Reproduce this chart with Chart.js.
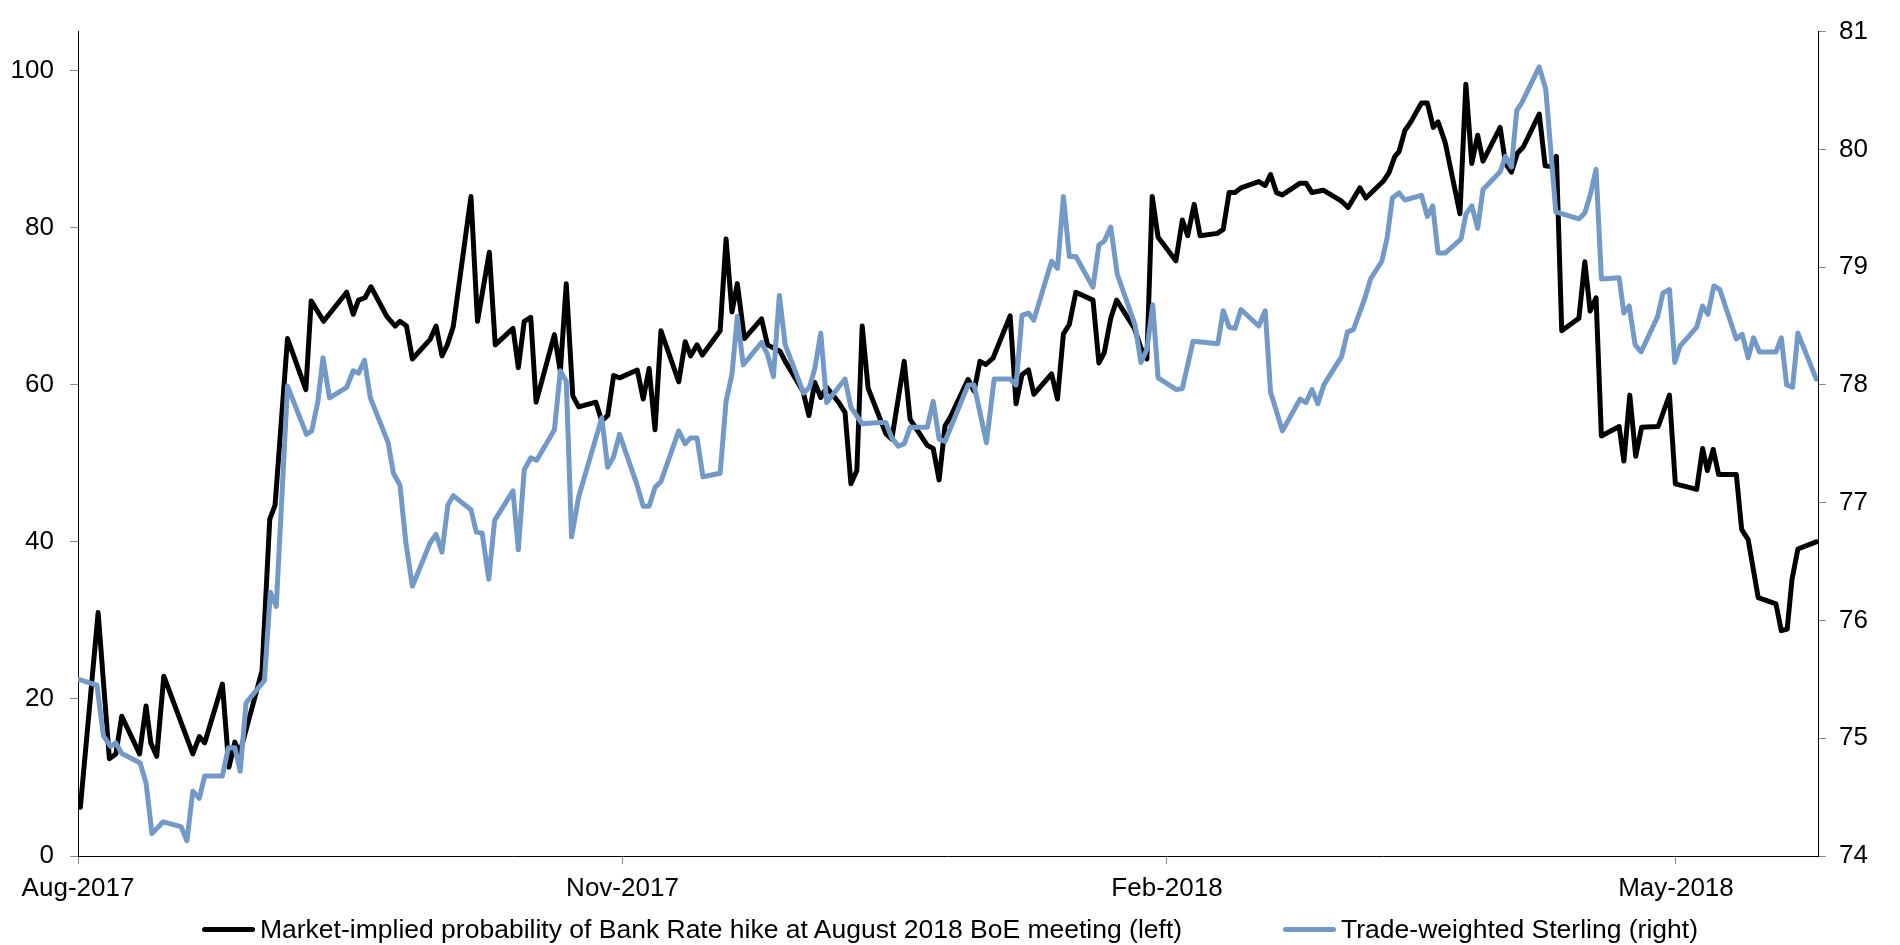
<!DOCTYPE html>
<html>
<head>
<meta charset="utf-8">
<script src="https://cdn.jsdelivr.net/npm/chart.js@4"></script>
<style>
  body { margin: 0; background: #fff; overflow: hidden; }
  #wrap { position: relative; width: 1900px; height: 945px; }
  #legend {
    position: absolute; left: 0; top: 914px; width: 1900px;
    display: flex; justify-content: center; align-items: center; gap: 101px;
    font-family: 'Liberation Sans', Arial, sans-serif; font-size: 26.5px; color: #000;
  }
  .item { display: flex; align-items: center; white-space: nowrap; }
  .swatch { display: inline-block; width: 53px; height: 5px; border-radius: 3px; margin-right: 5px; }
</style>
</head>
<body>
<div id="wrap">
  <canvas id="chart" width="1900" height="945"></canvas>
  <div id="legend">
    <div class="item"><span class="swatch" style="background:#000"></span>Market-implied probability of Bank Rate hike at August 2018 BoE meeting (left)</div>
    <div class="item"><span class="swatch" style="background:#7399c6"></span>Trade-weighted Sterling (right)</div>
  </div>
</div>
<script>
// x values are days counted from 1 Aug 2017
const tickDays = [0, 92, 184, 270]
const tickLabels = ["Aug-2017", "Nov-2017", "Feb-2018", "May-2018"]

// market-implied probability of a hike (left axis, %)
const probDays = [0.4, 3.4, 5.3, 6.4, 7.4, 10.4, 11.5, 12.3, 13.3, 14.5, 19.4, 20.5, 21.4, 24.4, 25.5, 26.5, 27.3, 31.1, 32.4, 33.3,
  35.4, 38.5, 39.4, 41.5, 45.4, 46.5, 47.4, 48.5, 49.5, 52.2, 53.6, 54.4, 55.5, 56.5, 59.5, 60.5, 61.5, 62.4, 63.4, 66.4,
  67.5, 69.5, 70.5, 73.5, 74.4, 75.4, 76.5, 77.4, 80.5, 81.5, 82.5, 83.6, 84.6, 87.5, 88.5, 89.5, 90.5, 91.5, 94.5, 95.5,
  96.5, 97.5, 98.5, 101.5, 102.6, 103.5, 104.6, 105.5, 108.5, 109.5, 110.5, 111.4, 112.6, 115.5, 116.5, 118.6, 119.5, 122.5, 123.5, 124.5,
  125.5, 126.5, 128.5, 129.6, 130.6, 131.6, 132.5, 133.5, 136.5, 137.5, 139.6, 140.6, 143.5, 144.5, 145.5, 146.5, 147.4, 150.4, 151.4, 152.4,
  153.4, 154.6, 157.5, 158.5, 159.5, 160.6, 161.5, 164.5, 165.5, 166.5, 167.5, 168.6, 171.5, 172.5, 173.4, 174.5, 175.5, 178.5, 179.6, 180.6,
  181.5, 182.5, 185.5, 186.6, 187.5, 188.6, 189.6, 192.5, 193.5, 194.5, 195.5, 196.5, 199.5, 200.6, 201.5, 202.5, 203.5, 206.5, 207.5, 208.5,
  210.4, 213.5, 214.6, 216.6, 217.6, 220.5, 221.5, 222.5, 223.2, 224.2, 225.2, 227.0, 228.0, 229.0, 229.8, 231.0, 233.5, 234.5, 235.5, 236.5,
  237.4, 240.3, 241.2, 242.2, 243.2, 244.2, 246.9, 247.9, 248.9, 249.8, 250.7, 253.6, 254.6, 255.5, 256.5, 257.4, 260.4, 261.2, 262.2, 263.2,
  264.2, 267.0, 268.9, 269.9, 273.5, 274.5, 275.3, 276.3, 277.2, 280.2, 281.1, 282.2, 283.9, 286.9, 287.8, 288.8, 289.6, 290.6, 293.7]
const probValues = [6.2, 31.0, 12.4, 13.0, 17.8, 13.0, 19.1, 14.4, 12.7, 22.9, 13.0, 15.2, 14.4, 21.9, 11.3, 14.5, 13.0, 23.6, 42.9, 44.7,
  65.9, 59.4, 70.7, 68.1, 71.8, 69.0, 70.8, 71.1, 72.5, 68.7, 67.5, 68.1, 67.5, 63.3, 65.8, 67.5, 63.7, 65.1, 67.4, 84.0,
  68.1, 76.9, 65.1, 67.2, 62.2, 68.1, 68.6, 57.8, 66.4, 61.7, 72.9, 58.6, 57.2, 57.8, 55.4, 56.1, 61.2, 60.9, 61.9, 58.2,
  62.1, 54.3, 66.9, 60.4, 65.5, 63.7, 65.1, 63.8, 66.9, 78.6, 69.3, 72.9, 65.9, 68.4, 65.1, 64.3, 63.0, 59.2, 56.1, 60.3,
  58.4, 59.7, 57.8, 56.5, 47.4, 49.1, 67.5, 59.6, 53.8, 53.1, 63.0, 55.6, 52.3, 51.9, 47.9, 54.8, 55.9, 60.7, 59.2, 63.0,
  62.6, 63.4, 68.8, 57.6, 61.3, 61.9, 58.8, 61.4, 58.2, 66.5, 67.7, 71.8, 70.8, 62.8, 64.1, 68.5, 70.8, 67.2, 64.7, 63.3,
  84.0, 78.8, 75.8, 81.0, 79.0, 83.0, 79.0, 79.3, 79.8, 84.5, 84.5, 85.1, 85.9, 85.4, 86.8, 84.5, 84.2, 85.7, 85.7, 84.5,
  84.8, 83.4, 82.6, 85.1, 83.8, 85.9, 87.0, 89.1, 89.7, 92.4, 93.5, 95.9, 95.9, 92.8, 93.5, 90.9, 81.8, 98.3, 88.2, 91.8,
  88.5, 92.8, 88.2, 87.1, 89.5, 90.3, 94.5, 87.9, 87.8, 89.1, 66.9, 68.5, 75.7, 69.4, 71.1, 53.5, 54.7, 50.3, 58.7, 50.9,
  54.6, 54.7, 58.7, 47.4, 46.7, 51.9, 49.1, 51.8, 48.6, 48.6, 41.6, 40.3, 32.9, 32.1, 28.7, 28.9, 35.2, 39.1, 40.0]

// trade-weighted sterling index (right axis)
const twiDays = [0.1, 3.2, 4.3, 5.5, 6.4, 7.4, 10.5, 11.5, 12.5, 14.4, 17.4, 18.4, 19.4, 20.5, 21.4, 24.4, 25.4, 26.5, 27.4, 28.4,
  31.5, 32.5, 33.5, 35.4, 38.6, 39.5, 40.5, 41.4, 42.5, 45.4, 46.5, 47.4, 48.4, 49.4, 52.4, 53.3, 54.4, 55.4, 56.5, 59.5,
  60.5, 61.5, 62.5, 63.4, 66.4, 67.3, 68.3, 69.4, 70.4, 73.5, 74.4, 75.4, 76.5, 77.5, 80.5, 81.5, 82.5, 83.4, 84.6, 88.5,
  89.5, 90.5, 91.5, 94.4, 95.5, 96.5, 97.5, 98.5, 101.5, 102.6, 103.5, 104.6, 105.6, 108.5, 109.5, 110.5, 111.4, 112.4, 115.5, 116.5,
  117.5, 118.5, 119.5, 122.6, 123.6, 124.5, 125.5, 126.5, 129.6, 130.6, 132.5, 135.5, 136.5, 137.5, 138.6, 139.6, 140.6, 143.5, 144.5, 145.5,
  146.5, 150.4, 151.4, 153.5, 154.8, 157.5, 158.5, 159.5, 160.6, 161.5, 164.5, 165.5, 166.5, 167.5, 168.6, 171.5, 172.5, 173.4, 174.5, 175.6,
  178.6, 179.6, 180.6, 181.6, 182.5, 185.6, 186.6, 188.4, 192.6, 193.5, 194.5, 195.5, 196.5, 199.5, 200.6, 201.5, 203.5, 206.5, 207.5, 208.5,
  209.5, 210.5, 213.5, 214.5, 215.5, 217.4, 218.4, 220.3, 221.2, 222.1, 223.2, 224.2, 227.0, 228.0, 228.9, 229.8, 231.0, 233.7, 234.5, 235.5,
  236.5, 237.4, 240.3, 241.2, 242.2, 243.1, 243.9, 246.9, 248.0, 249.7, 253.6, 254.6, 255.5, 256.5, 257.4, 260.4, 261.2, 262.1, 263.1, 264.1,
  266.9, 267.8, 268.9, 269.8, 270.7, 273.5, 274.5, 275.4, 276.4, 277.4, 280.2, 281.2, 282.2, 283.1, 284.1, 286.9, 287.8, 288.7, 289.7, 290.6,
  293.7]
const twiValues = [75.50, 75.45, 75.02, 74.93, 74.96, 74.87, 74.79, 74.62, 74.19, 74.29, 74.25, 74.13, 74.55, 74.49, 74.68, 74.68, 74.92, 74.92, 74.72, 75.30,
  75.49, 76.24, 76.12, 77.99, 77.58, 77.61, 77.85, 78.23, 77.89, 77.98, 78.12, 78.10, 78.21, 77.89, 77.51, 77.25, 77.15, 76.66, 76.29, 76.66,
  76.73, 76.58, 76.98, 77.06, 76.94, 76.75, 76.74, 76.35, 76.85, 77.10, 76.60, 77.28, 77.38, 77.36, 77.62, 78.12, 78.03, 76.71, 77.05, 77.72,
  77.30, 77.39, 77.58, 77.16, 76.97, 76.97, 77.13, 77.18, 77.61, 77.50, 77.55, 77.55, 77.22, 77.25, 77.86, 78.09, 78.58, 78.17, 78.36, 78.26,
  78.07, 78.76, 78.34, 77.93, 77.98, 78.14, 78.44, 77.85, 78.05, 77.81, 77.67, 77.68, 77.68, 77.55, 77.48, 77.50, 77.64, 77.64, 77.86, 77.54,
  77.52, 78.00, 78.00, 77.51, 78.05, 78.05, 78.00, 78.59, 78.61, 78.55, 79.05, 78.99, 79.60, 79.09, 79.09, 78.83, 79.19, 79.22, 79.34, 78.94,
  78.51, 78.19, 78.30, 78.68, 78.06, 77.96, 77.97, 78.37, 78.35, 78.63, 78.49, 78.48, 78.64, 78.50, 78.63, 77.94, 77.61, 77.88, 77.85, 77.96,
  77.84, 78.00, 78.24, 78.45, 78.47, 78.73, 78.90, 79.05, 79.25, 79.59, 79.63, 79.57, 79.61, 79.43, 79.52, 79.12, 79.12, 79.24, 79.45, 79.52,
  79.33, 79.66, 79.81, 79.94, 79.85, 80.33, 80.39, 80.70, 80.51, 79.47, 79.41, 79.46, 79.61, 79.83, 78.90, 78.91, 78.61, 78.67, 78.34, 78.28,
  78.58, 78.78, 78.81, 78.19, 78.33, 78.49, 78.67, 78.60, 78.84, 78.81, 78.39, 78.43, 78.23, 78.40, 78.28, 78.28, 78.40, 78.00, 77.98, 78.44,
  78.05]

const fontFamily = "'Liberation Sans', Arial, sans-serif"
const tickFont = { family: fontFamily, size: 26 }

const toPoints = (xs, ys) => xs.map((x, i) => ({ x: x, y: ys[i] }))

const ctx = document.getElementById("chart").getContext("2d")

new Chart(ctx, {
  type: "line",
  data: {
    datasets: [
      {
        label: "Market-implied probability of Bank Rate hike at August 2018 BoE meeting (left)",
        data: toPoints(probDays, probValues),
        borderColor: "#000000",
        borderWidth: 5,
        borderJoinStyle: "round",
        borderCapStyle: "round",
        pointRadius: 0,
        tension: 0,
        yAxisID: "y",
        order: 2,
      },
      {
        label: "Trade-weighted Sterling (right)",
        data: toPoints(twiDays, twiValues),
        borderColor: "#7399c6",
        borderWidth: 5,
        borderJoinStyle: "round",
        borderCapStyle: "round",
        pointRadius: 0,
        tension: 0,
        yAxisID: "y1",
        order: 1,
      },
    ],
  },
  options: {
    responsive: false,
    animation: false,
    devicePixelRatio: 1,
    layout: { padding: { top: 23, left: 0, right: 0, bottom: 0 } },
    plugins: {
      legend: { display: false },
      tooltip: { enabled: false },
    },
    scales: {
      x: {
        type: "linear",
        min: 0,
        max: 294,
        grid: { drawOnChartArea: false, tickLength: 8, color: "#888888" },
        border: { color: "#000000", width: 1 },
        ticks: {
          font: tickFont,
          color: "#000000",
          padding: 9,
          maxRotation: 0,
          autoSkip: false,
          callback: (value) => {
            const i = tickDays.indexOf(value)
            return i >= 0 ? tickLabels[i] : ""
          },
        },
        afterBuildTicks: (axis) => {
          axis.ticks = tickDays.map((v) => ({ value: v }))
        },
        afterFit: (scale) => {
          scale.height = 89
        },
      },
      y: {
        position: "left",
        min: 0,
        max: 105,
        grid: { drawOnChartArea: false, tickLength: 8, color: "#888888" },
        border: { color: "#000000", width: 1 },
        ticks: { stepSize: 20, includeBounds: false, font: tickFont, color: "#000000", padding: 16 },
        afterFit: (scale) => {
          scale.width = 78
        },
      },
      y1: {
        position: "right",
        min: 74,
        max: 81,
        grid: { drawOnChartArea: false, tickLength: 8, color: "#888888" },
        border: { color: "#000000", width: 1 },
        ticks: { stepSize: 1, font: tickFont, color: "#000000", padding: 13 },
        afterFit: (scale) => {
          scale.width = 82
        },
      },
    },
  },
})
</script>
</body>
</html>
